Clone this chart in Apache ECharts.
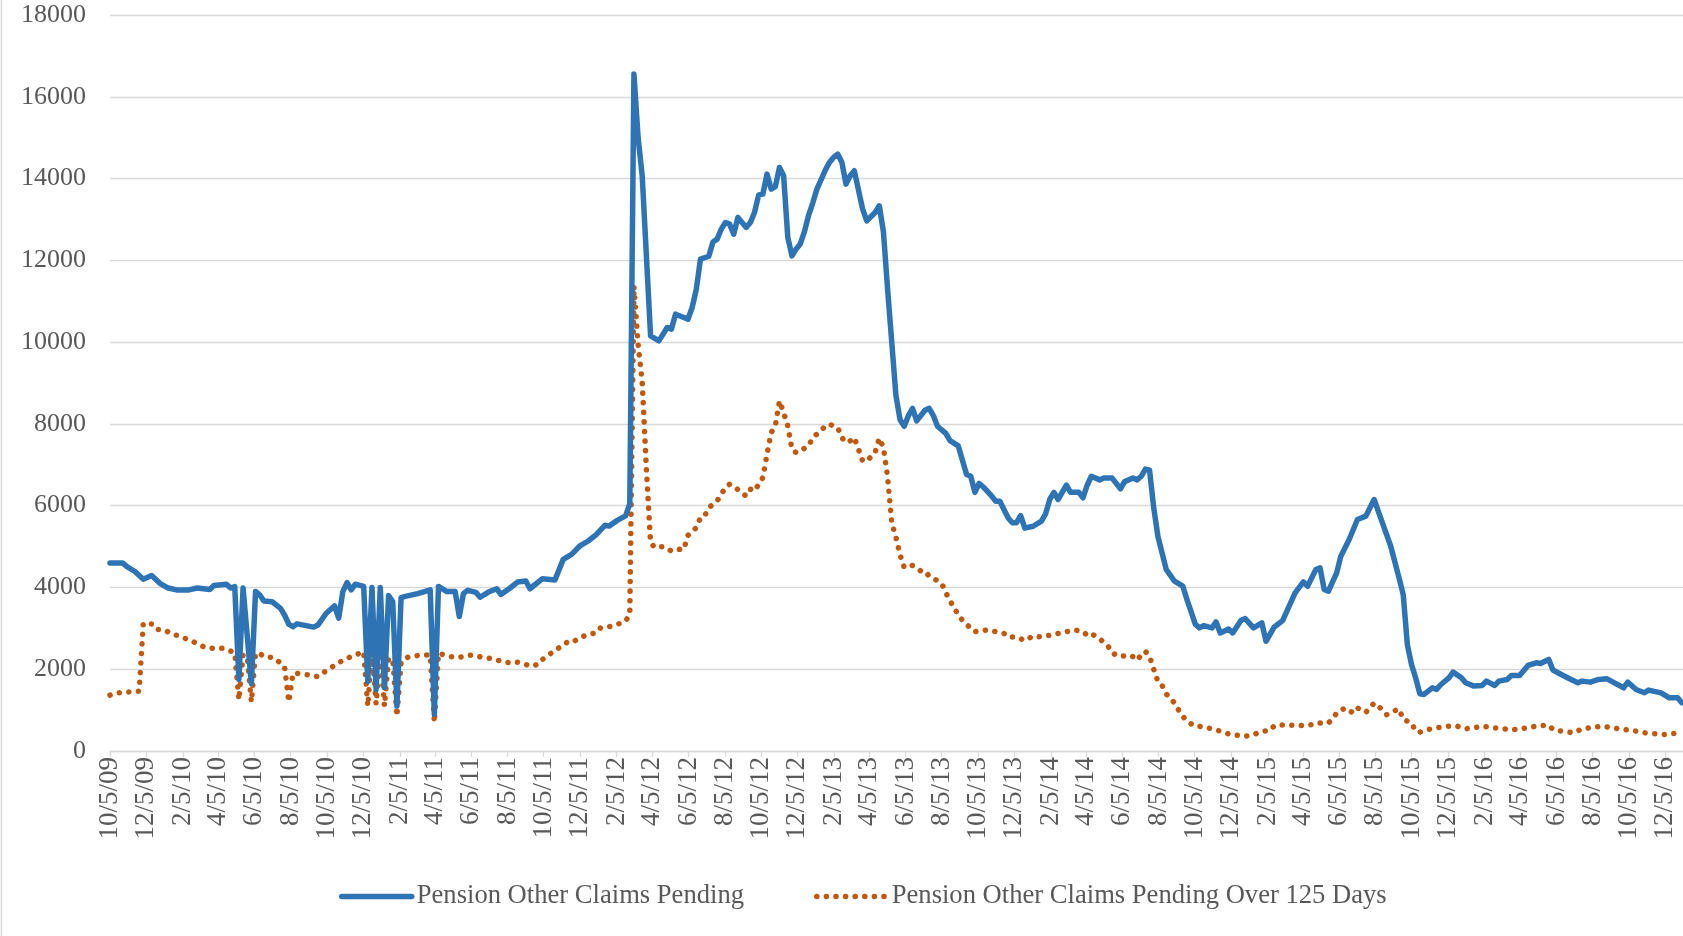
<!DOCTYPE html>
<html>
<head>
<meta charset="utf-8">
<title>Pension Other Claims Pending</title>
<script src="https://cdn.jsdelivr.net/npm/echarts@6.0.0/dist/echarts.min.js"></script>
<style>
  html, body { margin: 0; padding: 0; background: #fff; }
  #chart { width: 1683px; height: 936px; }
</style>
</head>
<body>
<div id="chart"></div>
<script>
// weekly data, week 0 = Monday 10/5/09
const startDate = "2009-10-05";
const endDate = "2017-01-04";

const pendingWeeks = [0, 3, 4, 6, 8, 10, 12, 14, 16, 19, 21, 24, 25, 28, 29, 30, 31, 32, 34, 35, 36, 37, 39, 41, 42, 43, 44, 45, 49, 50, 52, 54, 55, 56, 57, 58, 59, 61, 62, 63, 64, 65, 66, 67, 68, 69, 70, 71, 74, 77, 78, 79, 81, 83, 84, 85, 86, 88, 89, 91, 93, 94, 96, 98, 100, 101, 104, 107, 109, 111, 113, 115, 117, 119, 120, 122, 124, 125, 126, 127, 128, 129, 130, 132, 134, 135, 136, 138, 139, 140, 141, 142, 144, 145, 146, 147, 148, 149, 150, 151, 152, 153, 154, 155, 156, 157, 158, 159, 160, 161, 162, 163, 164, 165, 166, 167, 168, 169, 170, 172, 173, 174, 175, 176, 177, 178, 179, 181, 182, 184, 185, 186, 187, 188, 189, 190, 191, 192, 193, 194, 196, 197, 198, 199, 201, 202, 204, 205, 206, 207, 208, 209, 210, 212, 213, 214, 216, 217, 218, 219, 220, 222, 224, 225, 226, 227, 228, 230, 231, 233, 234, 235, 236, 238, 239, 241, 243, 244, 246, 247, 248, 249, 250, 251, 252, 254, 256, 258, 259, 261, 262, 263, 265, 266, 267, 269, 270, 272, 273, 275, 277, 278, 280, 282, 285, 287, 288, 290, 291, 292, 293, 295, 296, 298, 300, 302, 304, 306, 308, 310, 311, 312, 313, 314, 315, 316, 318, 319, 320, 322, 323, 325, 326, 328, 330, 331, 333, 334, 336, 337, 339, 341, 343, 344, 346, 347, 349, 351, 353, 354, 356, 358, 360, 361, 364, 365, 367, 369, 370, 373, 375, 377, 378];
const pendingValues = [4600, 4600, 4515, 4390, 4200, 4290, 4100, 3985, 3940, 3940, 3985, 3950, 4050, 4080, 3985, 4020, 1750, 3985, 1650, 3900, 3820, 3670, 3650, 3490, 3320, 3100, 3040, 3110, 3030, 3080, 3370, 3550, 3250, 3900, 4120, 3940, 4080, 4025, 1700, 4000, 1500, 4000, 1550, 3800, 3650, 1100, 3750, 3780, 3850, 3940, 900, 4025, 3900, 3900, 3290, 3850, 3930, 3880, 3760, 3887, 3968, 3830, 3968, 4132, 4157, 3968, 4214, 4181, 4687, 4810, 5014, 5136, 5300, 5520, 5500, 5640, 5750, 6050, 16556, 15000, 14050, 12100, 10150, 10030, 10356, 10315, 10683, 10600, 10560, 10846, 11295, 12029, 12100, 12450, 12518, 12763, 12926, 12885, 12640, 13048, 12926, 12804, 12926, 13171, 13600, 13619, 14109, 13742, 13800, 14272, 14068, 12559, 12110, 12274, 12400, 12700, 13100, 13400, 13742, 14200, 14394, 14517, 14599, 14400, 13864, 14068, 14190, 13252, 12967, 13171, 13334, 12700, 11295, 10000, 8700, 8100, 7942, 8200, 8379, 8073, 8335, 8379, 8204, 7942, 7767, 7592, 7461, 7112, 6762, 6719, 6326, 6544, 6457, 6238, 6107, 6107, 5700, 5583, 5583, 5758, 5452, 5496, 5620, 5801, 6151, 6326, 6151, 6500, 6326, 6326, 6194, 6500, 6719, 6631, 6675, 6675, 6413, 6588, 6675, 6631, 6719, 6893, 6867, 5950, 5253, 4440, 4152, 4030, 3703, 3100, 3010, 3067, 3010, 3157, 2888, 2985, 2888, 3198, 3238, 3010, 3132, 2684, 3034, 3189, 3866, 4136, 4030, 4437, 4478, 3948, 3907, 4356, 4764, 5172, 5661, 5743, 6150, 5579, 5008, 4234, 3826, 2600, 2113, 1786, 1400, 1383, 1546, 1505, 1620, 1790, 1929, 1790, 1668, 1587, 1603, 1709, 1603, 1709, 1750, 1847, 1847, 2092, 2158, 2141, 2239, 1980, 1872, 1766, 1668, 1709, 1684, 1750, 1766, 1709, 1546, 1684, 1505, 1423, 1489, 1423, 1301, 1301, 1179];

const over125Weeks = [0, 2, 5, 7, 8, 10, 11, 13, 15, 17, 20, 22, 24, 27, 29, 30, 31, 32, 33, 34, 35, 36, 37, 39, 41, 42, 43, 44, 45, 48, 50, 51, 53, 54, 55, 56, 58, 59, 60, 61, 62, 63, 64, 65, 66, 67, 68, 69, 70, 71, 72, 75, 77, 78, 79, 82, 84, 87, 89, 92, 94, 96, 97, 99, 101, 103, 104, 106, 108, 110, 111, 113, 115, 117, 118, 120, 122, 124, 125, 126, 127, 128, 129, 130, 131, 133, 135, 136, 138, 139, 141, 142, 143, 144, 146, 147, 148, 149, 150, 152, 153, 154, 155, 156, 157, 158, 159, 160, 161, 162, 163, 164, 165, 166, 168, 169, 170, 171, 172, 173, 174, 175, 176, 177, 178, 179, 180, 181, 182, 184, 185, 186, 187, 188, 189, 190, 191, 192, 193, 195, 196, 197, 198, 200, 201, 202, 203, 204, 206, 207, 208, 211, 213, 215, 216, 218, 220, 222, 224, 226, 228, 230, 232, 234, 235, 236, 238, 240, 241, 243, 245, 246, 247, 248, 249, 250, 251, 252, 253, 254, 256, 257, 258, 259, 261, 262, 264, 266, 268, 270, 273, 275, 277, 279, 280, 283, 285, 287, 289, 290, 293, 294, 295, 297, 299, 300, 302, 303, 304, 306, 307, 308, 310, 311, 313, 314, 315, 317, 319, 322, 324, 326, 328, 330, 333, 335, 338, 341, 343, 346, 347, 349, 352, 354, 356, 359, 361, 363, 367, 369, 371, 374, 376, 378];
const over125Values = [1366, 1423, 1448, 1464, 3125, 3108, 2977, 2960, 2863, 2797, 2675, 2568, 2511, 2511, 2446, 2400, 1250, 2348, 2307, 1200, 2389, 2389, 2307, 2290, 2160, 2050, 1200, 1898, 1898, 1857, 1816, 1898, 2020, 2102, 2150, 2225, 2307, 2350, 2389, 2430, 1100, 2511, 1150, 2536, 1100, 2266, 2225, 850, 2150, 2266, 2307, 2348, 2348, 700, 2389, 2307, 2290, 2348, 2304, 2255, 2198, 2157, 2182, 2157, 2076, 2117, 2239, 2386, 2525, 2663, 2647, 2770, 2851, 2892, 3014, 3039, 3096, 3177, 3340, 11375, 9950, 9000, 6900, 5100, 4974, 5000, 4892, 4930, 4933, 5276, 5462, 5707, 5748, 5951, 6114, 6278, 6441, 6522, 6482, 6300, 6237, 6400, 6359, 6522, 6685, 7257, 7787, 7950, 8561, 8276, 7950, 7379, 7298, 7339, 7461, 7665, 7750, 7828, 7950, 7991, 7950, 7910, 7665, 7542, 7583, 7665, 7379, 7094, 7094, 7298, 7650, 7420, 6700, 5583, 5233, 4797, 4491, 4534, 4534, 4403, 4403, 4272, 4229, 4098, 3879, 3661, 3530, 3311, 3093, 3005, 2918, 2962, 2918, 2874, 2787, 2787, 2700, 2813, 2787, 2831, 2874, 2918, 2962, 2918, 2831, 2874, 2743, 2569, 2394, 2307, 2350, 2307, 2219, 2350, 2438, 2307, 2000, 1700, 1608, 1400, 1175, 1000, 850, 726, 604, 604, 563, 522, 440, 400, 359, 400, 481, 506, 620, 644, 620, 628, 644, 685, 685, 783, 930, 1052, 930, 1052, 946, 1052, 1175, 1011, 889, 946, 1028, 771, 689, 481, 461, 526, 567, 608, 608, 543, 567, 608, 567, 543, 526, 567, 608, 632, 526, 485, 445, 543, 567, 608, 567, 543, 485, 445, 428, 404, 428, 445];

const yTicks = { min: 0, max: 18000, interval: 2000 };

// one category per day so the axis behaves like a date axis
const categories = [];
const dayMs = 86400000;
const t0 = Date.parse(startDate + "T00:00:00Z");
const t1 = Date.parse(endDate + "T00:00:00Z");
for (let t = t0; t <= t1; t += dayMs) {
  const d = new Date(t);
  categories.push((d.getUTCMonth() + 1) + "/" + d.getUTCDate() + "/" + String(d.getUTCFullYear()).slice(2));
}

const toPairs = (weeks, values) => weeks.map((w, i) => [w * 7, values[i]]);

// label every second month on the 5th: 10/5, 12/5, 2/5 ...
const isLabelDay = (index, value) => /^(2|4|6|8|10|12)\/5\//.test(value);

const font = "'Liberation Serif', 'Times New Roman', serif";
const gray = "#D9D9D9";
const textColor = "#595959";
const blue = "#2E74B5";
const orange = "#C0580F";

const chart = echarts.init(document.getElementById("chart"));

chart.setOption({
  animation: false,
  textStyle: { fontFamily: font },
  grid: { left: 110, right: 0, top: 15, bottom: 185, containLabel: false },
  graphic: [
    { type: "line", shape: { x1: 1.5, y1: 0, x2: 1.5, y2: 936 }, style: { stroke: gray, lineWidth: 1.5 } },
  ],
  legend: {
    left: 334,
    top: 878,
    itemWidth: 70,
    itemHeight: 14,
    itemGap: 70,
    itemStyle: { opacity: 0 },
    lineStyle: { width: "inherit" },
    textStyle: { fontSize: 26.6, color: textColor, fontFamily: font },
    data: ["Pension Other Claims Pending", "Pension Other Claims Pending Over 125 Days"],
  },
  xAxis: {
    type: "category",
    data: categories,
    boundaryGap: false,
    axisLine: { lineStyle: { color: gray, width: 1.3 } },
    axisTick: { show: true, interval: isLabelDay, length: 6, lineStyle: { color: gray, width: 1.3 } },
    axisLabel: {
      interval: isLabelDay,
      rotate: 90,
      margin: 6,
      fontSize: 27,
      color: textColor,
      fontFamily: font,
    },
    splitLine: { show: false },
  },
  yAxis: {
    type: "value",
    min: yTicks.min,
    max: yTicks.max,
    interval: yTicks.interval,
    axisLine: { show: false },
    axisTick: { show: false },
    axisLabel: { fontSize: 26, color: textColor, fontFamily: font, margin: 24, formatter: (v) => String(v) },
    splitLine: { lineStyle: { color: gray, width: 1.3 } },
  },
  series: [
    {
      name: "Pension Other Claims Pending",
      type: "line",
      data: toPairs(pendingWeeks, pendingValues),
      symbol: "none",
      lineStyle: { color: blue, width: 5.5, join: "round", cap: "round" },
      itemStyle: { color: blue },
      z: 3,
    },
    {
      name: "Pension Other Claims Pending Over 125 Days",
      type: "line",
      data: toPairs(over125Weeks, over125Values),
      symbol: "none",
      lineStyle: { color: orange, width: 5.5, type: [0.1, 9.5], cap: "round", join: "round" },
      itemStyle: { color: orange },
      z: 2,
    },
  ],
});

window.addEventListener("resize", () => chart.resize());
</script>
</body>
</html>
